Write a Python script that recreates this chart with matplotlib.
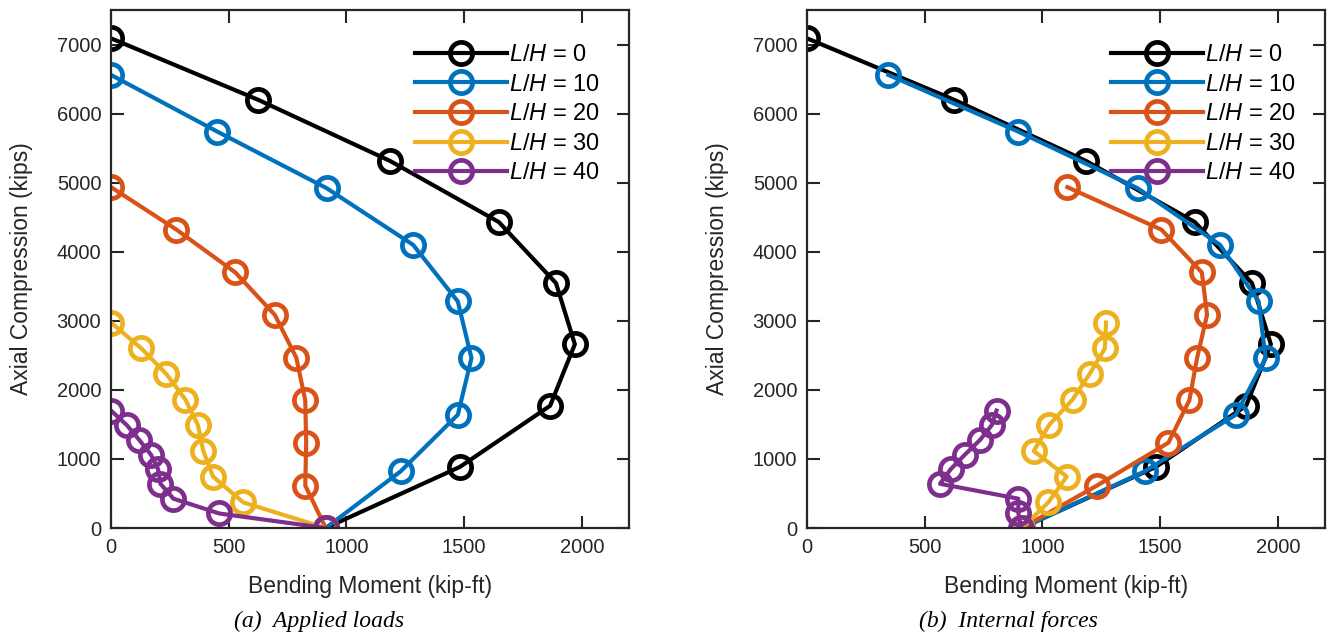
import matplotlib
matplotlib.use("Agg")
import matplotlib.pyplot as plt

plt.rcParams["font.family"] = ["Liberation Sans", "DejaVu Sans"]
plt.rcParams["mathtext.fontset"] = "custom"
plt.rcParams["mathtext.it"] = "Liberation Sans:italic"
plt.rcParams["mathtext.rm"] = "Liberation Sans"

# slenderness ratios
LH = [0, 10, 20, 30, 40]

# axial compression (kips), shared by both panels
P_0 = [7090, 6200, 5315, 4430, 3545, 2660, 1770, 885, 0]
P_10 = [6560, 5740, 4920, 4100, 3280, 2460, 1640, 820, 0]
P_20 = [4935, 4320, 3700, 3085, 2465, 1850, 1235, 615, 0]
P_30 = [2975, 2600, 2230, 1860, 1490, 1115, 745, 370, 0]
P_40 = [1700, 1490, 1275, 1060, 850, 640, 425, 210, 0]

# (a) applied-load bending moment (kip-ft)
M_app_0 = [0, 625, 1185, 1647, 1890, 1970, 1865, 1482, 912]
M_app_10 = [0, 451, 916, 1283, 1473, 1531, 1473, 1230, 912]
M_app_20 = [0, 278, 528, 696, 787, 825, 829, 825, 912]
M_app_30 = [0, 129, 235, 316, 369, 392, 433, 562, 912]
M_app_40 = [0, 67, 120, 170, 200, 210, 265, 460, 912]

# (b) internal-force bending moment (kip-ft)
M_int_0 = [0, 625, 1185, 1647, 1890, 1970, 1865, 1482, 912]
M_int_10 = [346, 897, 1404, 1754, 1918, 1948, 1821, 1434, 912]
M_int_20 = [1106, 1505, 1677, 1699, 1657, 1624, 1535, 1232, 912]
M_int_30 = [1270, 1265, 1200, 1128, 1028, 963, 1103, 1025, 912]
M_int_40 = [805, 785, 735, 670, 610, 565, 897, 898, 910]

COLORS = ["#000000", "#0072BD", "#D95319", "#EDB120", "#7E2F8E"]
AX_COL = "#262626"

P_ALL = [P_0, P_10, P_20, P_30, P_40]
M_APP = [M_app_0, M_app_10, M_app_20, M_app_30, M_app_40]
M_INT = [M_int_0, M_int_10, M_int_20, M_int_30, M_int_40]

W, H = 1330, 635
fig = plt.figure(figsize=(W / 100, H / 100), dpi=100)
ax_a = fig.add_axes([111 / W, 1 - 528 / H, 518 / W, 518 / H])
ax_b = fig.add_axes([807 / W, 1 - 528 / H, 518 / W, 518 / H])


def panel(ax, moments):
    for lh, m, p, c in zip(LH, moments, P_ALL, COLORS):
        ax.plot(m, p, color=c, lw=3.0, marker="o", ms=16, mew=3.4,
                mfc="none", mec=c, label=f"$L/H$ = {lh}")
    ax.set_xlim(0, 2200)
    ax.set_ylim(0, 7500)
    ax.set_xticks([0, 500, 1000, 1500, 2000])
    ax.set_yticks(range(0, 7001, 1000))
    ax.tick_params(direction="in", length=9, width=1.5, top=True, right=True,
                   labelsize=14.5, colors=AX_COL, pad=7)
    for s in ax.spines.values():
        s.set_linewidth(1.6)
        s.set_color(AX_COL)
    ax.set_xlabel("Bending Moment (kip-ft)", fontsize=16.5, color=AX_COL, labelpad=13)
    ax.set_ylabel("Axial Compression (kips)", fontsize=16.5, color=AX_COL, labelpad=17)
    ax.legend(loc="upper right", frameon=False, fontsize=17, handlelength=3.9,
              handletextpad=0.1, labelspacing=0.32, borderaxespad=0.5,
              bbox_to_anchor=(0.985, 0.975))


panel(ax_a, M_APP)
panel(ax_b, M_INT)

fig.text(319 / W, 1 - 621 / H, "(a)  Applied loads", ha="center", va="center",
         fontsize=17, style="italic", family="Liberation Serif")
fig.text(1008 / W, 1 - 621 / H, "(b)  Internal forces", ha="center", va="center",
         fontsize=17, style="italic", family="Liberation Serif")

fig.savefig("out.png", dpi=100)
